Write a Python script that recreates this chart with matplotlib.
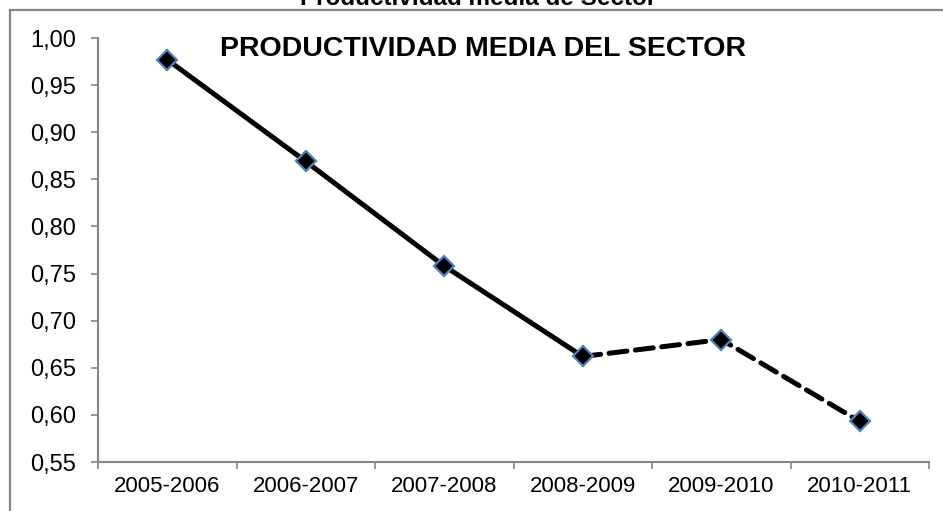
import matplotlib.pyplot as plt
from matplotlib.lines import Line2D

# datos
periodos = ['2005-2006', '2006-2007', '2007-2008', '2008-2009', '2009-2010', '2010-2011']
productividad = [0.977, 0.869, 0.758, 0.662, 0.680, 0.593]
y_ticks = [0.55, 0.60, 0.65, 0.70, 0.75, 0.80, 0.85, 0.90, 0.95, 1.00]
n_real = 4  # los primeros 4 puntos van con linea continua, el resto discontinua

plt.rcParams['font.family'] = ['Liberation Sans', 'DejaVu Sans']
gris = '#868686'

fig = plt.figure(figsize=(9.43, 5.11), dpi=100)
ax = fig.add_axes([98 / 943, 1 - 462 / 511, (929 - 98) / 943, (462 - 38) / 511])

x = list(range(len(periodos)))

# tramo continuo y tramo discontinuo
ax.plot(x[:n_real], productividad[:n_real], color='black', lw=3.6, solid_capstyle='round', zorder=2)
ax.plot(x[n_real - 1:], productividad[n_real - 1:], color='black', lw=3.6,
        linestyle=(0, (3.6, 1.7)), dash_capstyle='round', zorder=2)
ax.plot(x, productividad, linestyle='none', marker='D', markersize=10,
        markerfacecolor='black', markeredgecolor='#4f81bd', markeredgewidth=1.6, zorder=3)

ax.set_xlim(-0.5, len(periodos) - 0.5)
ax.set_ylim(0.55, 1.00)

ax.set_yticks(y_ticks)
ax.set_yticklabels(['{:.2f}'.format(v).replace('.', ',') for v in y_ticks], fontsize=17)
ax.tick_params(axis='y', direction='out', length=5, width=1.2, color=gris, pad=11)

ax.set_xticks(x)
ax.set_xticklabels(periodos, fontsize=16)
ax.set_xticks([i - 0.5 for i in range(len(periodos) + 1)], minor=True)
ax.tick_params(axis='x', which='major', length=0, pad=10)
ax.tick_params(axis='x', which='minor', direction='out', length=5, width=1.2, color=gris)

for s in ['top', 'right']:
    ax.spines[s].set_visible(False)
for s in ['left', 'bottom']:
    ax.spines[s].set_color(gris)
    ax.spines[s].set_linewidth(1.5)

# titulo dentro del area de trazado
fig.text(483 / 943, 1 - 49 / 511, 'PRODUCTIVIDAD MEDIA DEL SECTOR', ha='center', va='center',
         fontsize=20.5, fontweight='bold')

# titulo exterior, cortado por arriba
fig.text(478 / 943, 1 - 5 / 511, 'Productividad media de Sector', ha='center', va='baseline',
         fontsize=17.5, fontweight='bold')

# borde del area del grafico (recortado a la derecha y abajo)
fig.add_artist(Line2D([10 / 943, 1], [1 - 10 / 511, 1 - 10 / 511], color=gris, lw=1.6,
                      transform=fig.transFigure))
fig.add_artist(Line2D([10 / 943, 10 / 943], [0, 1 - 10 / 511], color=gris, lw=1.6,
                      transform=fig.transFigure))

fig.savefig('out.png', dpi=100)
